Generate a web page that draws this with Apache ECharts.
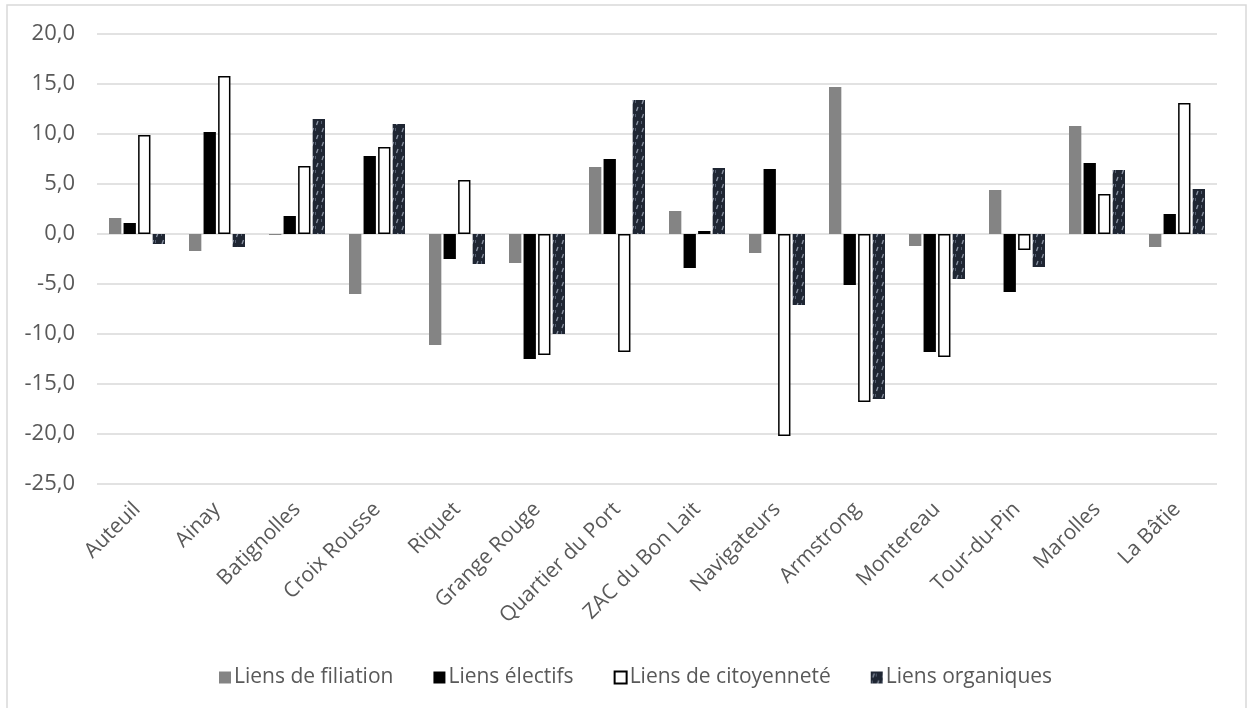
<!DOCTYPE html>
<html>
<head>
<meta charset="utf-8">
<script src="https://cdn.jsdelivr.net/npm/echarts@6/dist/echarts.min.js"></script>
<style>
  html, body { margin: 0; padding: 0; background: #ffffff; }
  #chart { width: 1247px; height: 708px; }
</style>
</head>
<body>
<div id="chart"></div>
<script>
const categories = ['Auteuil', 'Ainay', 'Batignolles', 'Croix Rousse', 'Riquet', 'Grange Rouge', 'Quartier du Port', 'ZAC du Bon Lait', 'Navigateurs', 'Armstrong', 'Montereau', 'Tour-du-Pin', 'Marolles', 'La Bâtie'];
const seriesNames = ['Liens de filiation', 'Liens électifs', 'Liens de citoyenneté', 'Liens organiques'];
const filiation = [1.6, -1.7, -0.1, -6.0, -11.1, -2.9, 6.7, 2.3, -1.9, 14.7, -1.2, 4.4, 10.8, -1.3];
const electifs = [1.1, 10.2, 1.8, 7.8, -2.5, -12.5, 7.5, -3.4, 6.5, -5.1, -11.8, -5.8, 7.1, 2.0];
const citoyennete = [9.9, 15.8, 6.8, 8.7, 5.4, -12.1, -11.8, 0.3, -20.2, -16.8, -12.3, -1.6, 4.0, 13.1];
const organiques = [-1.0, -1.3, 11.5, 11.0, -3.0, -10.0, 13.4, 6.6, -7.1, -16.5, -4.5, -3.3, 6.4, 4.5];
const yMin = -25, yMax = 20, yStep = 5;

// texture for "Liens organiques"
function makePattern() {
  const c = document.createElement('canvas');
  c.width = 10; c.height = 14;
  const g = c.getContext('2d');
  g.fillStyle = '#1f2633';
  g.fillRect(0, 0, 10, 14);
  g.strokeStyle = '#8c95a5';
  g.lineWidth = 1.3;
  g.beginPath();
  g.moveTo(2, 6); g.lineTo(3.5, 2);
  g.moveTo(6.5, 13); g.lineTo(8, 9);
  g.stroke();
  g.fillStyle = '#566072';
  g.fillRect(5, 2, 1, 3);
  g.fillRect(1, 9, 1, 3);
  return c;
}
const pattern = { image: makePattern(), repeat: 'repeat' };

const font = 'Open Sans';
const txt = '#595959';

const chart = echarts.init(document.getElementById('chart'));
chart.setOption({
  animation: false,
  backgroundColor: '#ffffff',
  textStyle: { fontFamily: font },
  graphic: [{
    type: 'rect', silent: true, z: -1,
    shape: { x: 7, y: 5, width: 1239, height: 720 },
    style: { fill: 'none', stroke: '#d9d9d9', lineWidth: 1.5 }
  }],
  grid: { left: 97, right: 30, top: 34, bottom: 224 },
  legend: {
    left: 214, top: 662, itemWidth: 12, itemHeight: 12, itemGap: 40,
    icon: 'rect',
    textStyle: { fontFamily: font, fontSize: 21, color: txt, padding: [0, 0, 0, -2] },
    data: seriesNames
  },
  xAxis: {
    type: 'category', data: categories,
    axisLine: { show: false, onZero: false },
    axisTick: { show: false },
    axisLabel: { rotate: 45, interval: 0, margin: 22, fontFamily: font, fontSize: 21, color: txt }
  },
  yAxis: {
    type: 'value', min: yMin, max: yMax, interval: yStep,
    axisLine: { show: false }, axisTick: { show: false },
    splitLine: { lineStyle: { color: '#d9d9d9', width: 1.5 } },
    axisLabel: {
      margin: 22, fontFamily: font, fontSize: 22, color: txt,
      formatter: v => v.toFixed(1).replace('.', ',')
    }
  },
  series: [
    { name: seriesNames[0], type: 'bar', data: filiation, barCategoryGap: '30%', barGap: '18%',
      itemStyle: { color: '#848484' } },
    { name: seriesNames[1], type: 'bar', data: electifs,
      itemStyle: { color: '#000000' } },
    { name: seriesNames[2], type: 'bar', data: citoyennete,
      itemStyle: { color: '#ffffff', borderColor: '#000000', borderWidth: 1.5 } },
    { name: seriesNames[3], type: 'bar', data: organiques,
      itemStyle: { color: pattern } }
  ]
});
</script>
</body>
</html>
